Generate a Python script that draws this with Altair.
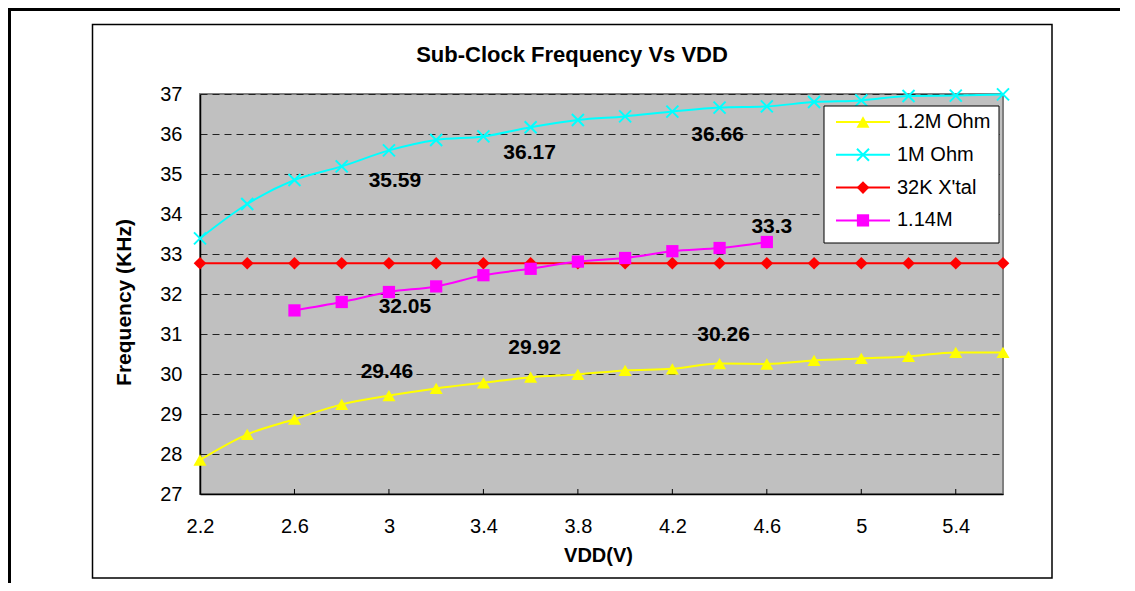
import altair as alt
import pandas as pd

# ---------------- data ----------------
VDD = [2.2, 2.4, 2.6, 2.8, 3.0, 3.2, 3.4, 3.6, 3.8, 4.0, 4.2, 4.4, 4.6, 4.8, 5.0, 5.2, 5.4, 5.6]
R_12M = [27.85, 28.49, 28.87, 29.24, 29.46, 29.64, 29.78, 29.92, 29.99, 30.09, 30.13, 30.26, 30.25, 30.34, 30.39, 30.44, 30.54, 30.54]
R_1M = [33.39, 34.25, 34.85, 35.19, 35.59, 35.85, 35.94, 36.17, 36.35, 36.44, 36.56, 36.66, 36.69, 36.80, 36.84, 36.95, 36.96, 36.99]
XTAL = [32.77, 32.77, 32.77, 32.77, 32.77, 32.77, 32.77, 32.77, 32.77, 32.77, 32.77, 32.77, 32.77, 32.77, 32.77, 32.77, 32.77, 32.77]
VDD_114 = [2.6, 2.8, 3.0, 3.2, 3.4, 3.6, 3.8, 4.0, 4.2, 4.4, 4.6]
R_114M = [31.59, 31.80, 32.05, 32.19, 32.47, 32.63, 32.81, 32.90, 33.07, 33.15, 33.30]

SERIES = ["1.2M Ohm", "1M Ohm", "32K X'tal", "1.14M"]
COLORS = ["#ffff00", "#00ffff", "#ff0000", "#ff00ff"]
X_TICKS = [2.2, 2.6, 3.0, 3.4, 3.8, 4.2, 4.6, 5.0, 5.4]
Y_TICKS = [27, 28, 29, 30, 31, 32, 33, 34, 35, 36, 37]
TITLE = "Sub-Clock Frequency Vs VDD"
X_TITLE = "VDD(V)"
Y_TITLE = "Frequency (KHz)"

# data labels: (series, VDD)
LABEL_POINTS = [("1M Ohm", 3.0), ("1M Ohm", 3.6), ("1M Ohm", 4.4),
                ("1.14M", 4.6), ("1.14M", 3.0),
                ("1.2M Ohm", 3.0), ("1.2M Ohm", 3.6), ("1.2M Ohm", 4.4)]

# ---------------- tables ----------------
frames = []
for name, xs, ys in [(SERIES[0], VDD, R_12M), (SERIES[1], VDD, R_1M),
                     (SERIES[2], VDD, XTAL), (SERIES[3], VDD_114, R_114M)]:
    frames.append(pd.DataFrame({"series": name, "vdd": xs, "freq": ys}))
df = pd.concat(frames, ignore_index=True)

W, H = 803, 400
FONT = "Liberation Sans"

x_enc = alt.X("vdd:Q",
              scale=alt.Scale(domain=[2.2, 5.6], nice=False, zero=False),
              axis=alt.Axis(values=X_TICKS, format="~g", grid=False, tickSize=0,
                            labelFlush=False, labelBound=False,
                            labelPadding=22, labelFontSize=20, labelFont=FONT,
                            labelColor="black", domainColor="black", domainWidth=1.5,
                            title=X_TITLE, titleFont=FONT, titleFontSize=20,
                            titleFontWeight="bold", titleColor="black",
                            titleX=398, titleY=61, titleBaseline="middle"))
y_enc = alt.Y("freq:Q",
              scale=alt.Scale(domain=[27, 37], nice=False, zero=False),
              axis=alt.Axis(values=Y_TICKS, format="d", grid=True, gridDash=[7, 5],
                            gridColor="#222222", gridWidth=1, tickSize=0,
                            labelPadding=18, labelFontSize=20, labelFont=FONT,
                            labelColor="black", domainColor="black", domainWidth=1.5,
                            title=Y_TITLE, titleFont=FONT, titleFontSize=21,
                            titleFontWeight="bold", titleColor="black",
                            titleX=-76, titleY=208, titleBaseline="middle"))

def marker(name, color):
    if name == SERIES[0]:
        return dict(shape="triangle-up", filled=True, size=170, color=color, opacity=1)
    if name == SERIES[1]:
        return dict(shape="M-1,-1L1,1M-1,1L1,-1", filled=False, size=144,
                    strokeWidth=2, color=color, opacity=1)
    if name == SERIES[2]:
        return dict(shape="diamond", filled=True, size=160, color=color, opacity=1)
    return dict(shape="square", filled=True, size=150, color=color, opacity=1)

layers = []
# frames (decoration): outer frame top & left edges, then the chart-area box
one = pd.DataFrame({"k": [0]})
layers.append(alt.Chart(one).mark_rule(color="black", strokeWidth=3).encode(
    x=alt.value(-192), x2=alt.value(920), y=alt.value(-84.5)))
layers.append(alt.Chart(one).mark_rule(color="black", strokeWidth=3).encode(
    x=alt.value(-190.5), y=alt.value(-86), y2=alt.value(489)))
layers.append(alt.Chart(one).mark_rect(filled=False, stroke="black", strokeWidth=1.5).encode(
    x=alt.value(-107.5), x2=alt.value(852), y=alt.value(-69.5), y2=alt.value(484)))

# axis ticks (inward, on bottom axis)
layers.append(alt.Chart(pd.DataFrame({"vdd": X_TICKS[1:]})).mark_rule(color="black", strokeWidth=1).encode(
    x=x_enc, y=alt.value(H), y2=alt.value(H - 5)))

# series
for name, color in zip(SERIES, COLORS):
    sub = df[df["series"] == name]
    layers.append(alt.Chart(sub).mark_line(color=color, strokeWidth=2, interpolate="monotone")
                  .encode(x=x_enc, y=y_enc))
    layers.append(alt.Chart(sub).mark_point(**marker(name, color)).encode(x=x_enc, y=y_enc))

# data labels
OFFSETS = {("1M Ohm", 3.0): (6, 31), ("1M Ohm", 3.6): (-1, 26), ("1M Ohm", 4.4): (-2, 27),
           ("1.14M", 4.6): (5, -15), ("1.14M", 3.0): (16, 15),
           ("1.2M Ohm", 3.0): (-2, -24), ("1.2M Ohm", 3.6): (4, -29), ("1.2M Ohm", 4.4): (4, -29)}
for s, v in LABEL_POINTS:
    row = df[(df["series"] == s) & ((df["vdd"] - v).abs() < 1e-9)].copy()
    row["txt"] = row["freq"].map(lambda f: f"{f:g}")
    dx, dy = OFFSETS[(s, v)]
    layers.append(alt.Chart(row).mark_text(font=FONT, fontSize=21, fontWeight="bold",
                                           color="black", dx=dx, dy=dy, baseline="middle")
                  .encode(x=x_enc, y=y_enc, text="txt:N"))

# title
layers.append(alt.Chart(pd.DataFrame({"t": [TITLE]})).mark_text(
    font=FONT, fontSize=22, fontWeight="bold", color="black", baseline="middle").encode(
    x=alt.value(372), y=alt.value(-39), text="t:N"))

# legend (manual)
layers.append(alt.Chart(one).mark_rect(fill="white", stroke="black", strokeWidth=1).encode(
    x=alt.value(624), x2=alt.value(799), y=alt.value(12), y2=alt.value(149)))
for i, (name, color) in enumerate(zip(SERIES, COLORS)):
    yy = 28 + i * 32.8
    ld = pd.DataFrame({"name": [name]})
    layers.append(alt.Chart(ld).mark_rule(color=color, strokeWidth=2).encode(
        x=alt.value(636), x2=alt.value(690), y=alt.value(yy)))
    layers.append(alt.Chart(ld).mark_point(**marker(name, color)).encode(
        x=alt.value(663), y=alt.value(yy)))
    layers.append(alt.Chart(ld).mark_text(font=FONT, fontSize=20, color="black",
                                          align="left", baseline="middle").encode(
        x=alt.value(697), y=alt.value(yy), text="name:N"))

chart = alt.layer(*layers).properties(
    width=W, height=H,
    autosize=alt.AutoSizeParams(type="none"),
    padding={"left": 192, "top": 86, "right": 124, "bottom": 89},
    background="white",
).configure_view(fill="#c0c0c0", stroke="#808080", strokeWidth=2)

chart.save("out.html", embed_options={"renderer": "svg", "actions": False})
